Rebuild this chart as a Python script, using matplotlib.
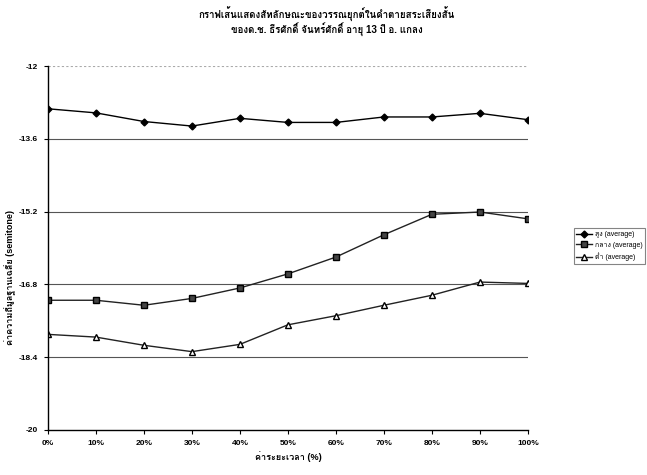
import numpy as np
import matplotlib
matplotlib.use("Agg")
from matplotlib import pyplot as plt
from matplotlib import font_manager, ft2font

# data
percent = [0, 10, 20, 30, 40, 50, 60, 70, 80, 90, 100]
xlabels = ['0%', '10%', '20%', '30%', '40%', '50%', '60%', '70%', '80%', '90%', '100%']
tone1 = [-12.94, -13.03, -13.22, -13.32, -13.15, -13.24, -13.24, -13.12, -13.12, -13.04, -13.18]
tone2 = [-17.15, -17.15, -17.26, -17.11, -16.88, -16.57, -16.20, -15.71, -15.26, -15.21, -15.36]
tone3 = [-17.90, -17.96, -18.14, -18.28, -18.12, -17.69, -17.49, -17.26, -17.04, -16.75, -16.78]
names = ['สูง (average)', 'กลาง (average)', 'ต่ำ (average)']
yticks = [-12, -13.6, -15.2, -16.8, -18.4, -20]

# find a font with thai glyphs, if any
thai = None
for f in font_manager.fontManager.ttflist:
    try:
        if ord('ก') in ft2font.FT2Font(f.fname).get_charmap():
            thai = f.name
            break
    except Exception:
        pass
fams = ['Liberation Sans'] + ([thai] if thai else []) + ['DejaVu Sans']
plt.rcParams['font.family'] = fams

fig = plt.figure(figsize=(6.47, 4.75), dpi=100)
ax = fig.add_axes([0.074, 0.095, 0.742, 0.766])

ax.plot(percent, tone1, color='black', lw=1, marker='D', ms=3.5, mfc='black', mec='black', label=names[0])
ax.plot(percent, tone2, color='#222222', lw=1, marker='s', ms=4.5, mfc='#444444', mec='black', label=names[1])
ax.plot(percent, tone3, color='#222222', lw=1, marker='^', ms=4.5, mfc='white', mec='black', label=names[2])

ax.set_xlim(0, 100)
ax.set_ylim(-20, -12)
ax.set_xticks(percent)
ax.set_xticklabels(xlabels, fontsize=6, fontweight='bold')
ax.set_yticks(yticks)
ax.set_yticklabels([('%g' % v) for v in yticks], fontsize=6, fontweight='bold')
ax.tick_params(length=3, width=0.8, pad=4)

for v in yticks[1:-1]:
    ax.axhline(v, color='#555555', lw=0.8, zorder=0)
ax.axhline(-12, color='#aaaaaa', lw=0.8, ls=(0, (2, 2)), zorder=0)

ax.spines['top'].set_visible(False)
ax.spines['right'].set_visible(False)
ax.spines['left'].set_linewidth(1)
ax.spines['bottom'].set_linewidth(1)

ax.set_xlabel('ค่าระยะเวลา (%)', fontsize=6.5, fontweight='bold', labelpad=3)
ax.set_ylabel('ค่าความถี่มูลฐานเฉลี่ย (semitone)', fontsize=6.5, fontweight='bold')
ax.yaxis.set_label_coords(-0.066, 0.42)

title = ('กราฟเส้นแสดงสัทลักษณะของวรรณยุกต์ในคำตายสระเสียงสั้น\n'
         'ของด.ช. ธีรศักดิ์ จันทร์ศักดิ์ อายุ 13 ปี อ. แกลง')
fig.text(0.505, 0.954, title, ha='center', va='center', fontsize=7,
         fontweight='bold', linespacing=1.05)

leg = ax.legend(loc='center left', bbox_to_anchor=(1.088, 0.505), fontsize=5,
                frameon=True, fancybox=False, edgecolor='#666666',
                handlelength=2.2, borderpad=0.4, labelspacing=0.5, handletextpad=0.4)
leg.get_frame().set_linewidth(0.8)

fig.savefig('out.png', dpi=100)
